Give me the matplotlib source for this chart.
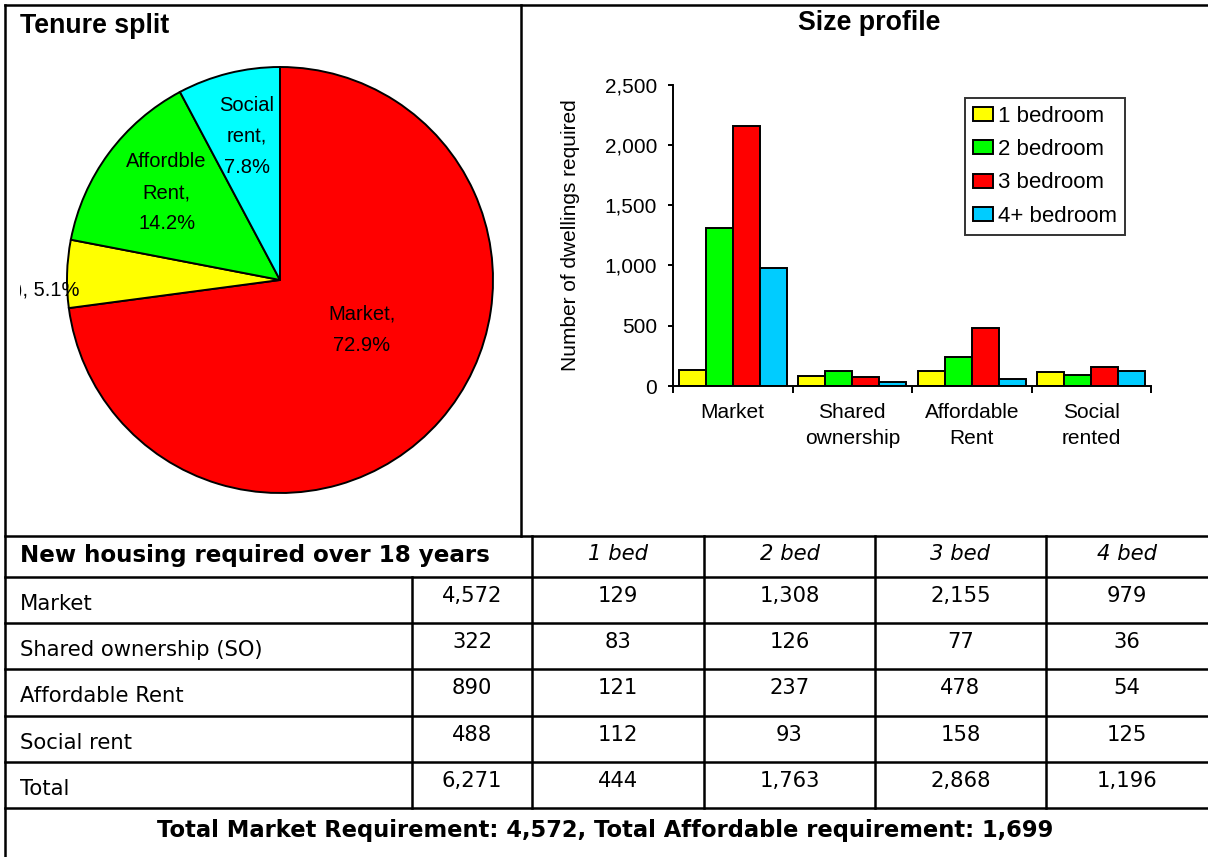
import matplotlib

matplotlib.use("Agg")
import matplotlib.pyplot as plt
import numpy as np
from matplotlib.legend_handler import HandlerPatch
from matplotlib.patches import Rectangle

# ---------- data ----------
# tenure split of new dwellings
tenure_totals = [4572, 322, 890, 488]
pie_names = ["Market,", "Shared ownership (SO),", "Affordble\nRent,", "Social\nrent,"]
pie_colors = ["#FF0000", "#FFFF00", "#00FF00", "#00FFFF"]

# size profile by tenure
groups = ["Market", "Shared\nownership", "Affordable\nRent", "Social\nrented"]
size_names = ["1 bedroom", "2 bedroom", "3 bedroom", "4+ bedroom"]
bed1 = [129, 83, 121, 112]
bed2 = [1308, 126, 237, 93]
bed3 = [2155, 77, 478, 158]
bed4 = [979, 36, 54, 125]
bar_colors = ["#FFFF00", "#00FF00", "#FF0000", "#00CCFF"]

# summary table
row_labels = ["Market", "Shared ownership (SO)", "Affordable Rent", "Social rent", "Total"]
row_totals = [4572, 322, 890, 488, 6271]
bed_totals = [444, 1763, 2868, 1196]
col_heads = ["1 bed", "2 bed", "3 bed", "4 bed"]
market_req = 4572
affordable_req = 1699

# ---------- layout (pixels, y down) ----------
W, H = 1208, 857
SANS = "Liberation Sans"
TABLE_FONT = "DejaVu Sans"


def fig_box(x0, y0, x1, y1):
    return [x0 / W, 1 - y1 / H, (x1 - x0) / W, (y1 - y0) / H]


def square_patch(legend, orig_handle, xdescent, ydescent, width, height, fontsize):
    # small square key pushed to the right end of the handle slot
    side = height
    return Rectangle((width - side - xdescent, -ydescent), side, side)


fig = plt.figure(figsize=(W / 100, H / 100), dpi=100)
fig.patch.set_facecolor("white")

# ---------- pie: tenure split ----------
PIE_CX, PIE_CY, PIE_R = 280, 280, 213
PIE_BOX = (20, 40, 520, 520)
ax_pie = fig.add_axes(fig_box(*PIE_BOX))
ax_pie.pie(
    tenure_totals,
    colors=pie_colors,
    startangle=90,
    counterclock=False,
    wedgeprops=dict(edgecolor="black", linewidth=1.4),
)
ax_pie.set_aspect("auto")
ax_pie.set_xlim((PIE_BOX[0] - PIE_CX) / PIE_R, (PIE_BOX[2] - PIE_CX) / PIE_R)
ax_pie.set_ylim((PIE_CY - PIE_BOX[3]) / PIE_R, (PIE_CY - PIE_BOX[1]) / PIE_R)

total = sum(tenure_totals)
label_pos = [(0.384, -0.233), (-0.939, -0.047), (-0.532, 0.41), (-0.156, 0.672)]
label_ha = ["center", "right", "center", "center"]
for name, v, (lx, ly), ha in zip(pie_names, tenure_totals, label_pos, label_ha):
    sep = " " if "\n" not in name and ha == "right" else "\n"
    ax_pie.text(
        lx, ly, f"{name}{sep}{v / total * 100:.1f}%",
        ha=ha, va="center", multialignment="center",
        fontsize=14.5, family=SANS, linespacing=1.8, clip_on=True,
    )

# ---------- bars: size profile ----------
ax_bar = fig.add_axes(fig_box(673, 84.5, 1151, 386))
x = np.arange(len(groups))
w = 0.225
for i, (vals, lab, col) in enumerate(zip([bed1, bed2, bed3, bed4], size_names, bar_colors)):
    ax_bar.bar(x + (i - 1.5) * w, vals, w, color=col, edgecolor="black",
               linewidth=1.4, label=lab)
ax_bar.set_xlim(-0.5, len(groups) - 0.5)
ax_bar.set_ylim(0, 2500)
ax_bar.set_yticks(np.arange(0, 2501, 500))
ax_bar.set_yticklabels([f"{t:,}" for t in range(0, 2501, 500)], family=SANS, fontsize=15)
ax_bar.set_xticks(np.arange(-0.5, len(groups)), labels=[])
ax_bar.set_xticks(x, labels=groups, minor=True)
for lbl in ax_bar.get_xticklabels(minor=True):
    lbl.set_family(SANS)
    lbl.set_fontsize(15)
    lbl.set_linespacing(1.45)
ax_bar.tick_params(axis="x", which="major", direction="out", length=4.8, width=1.4)
ax_bar.tick_params(axis="x", which="minor", length=0, pad=12.5)
ax_bar.tick_params(axis="y", direction="out", length=3.5, width=1.4, pad=8)
for s in ("top", "right"):
    ax_bar.spines[s].set_visible(False)
for s in ("left", "bottom"):
    ax_bar.spines[s].set_linewidth(1.4)
ax_bar.set_ylabel("Number of dwellings required", family=SANS, fontsize=15, va="center")
ax_bar.yaxis.set_label_coords(-0.2134, 0.5)

leg = ax_bar.legend(
    loc="upper left",
    bbox_to_anchor=(964.5 / W, 1 - 98 / H),
    bbox_transform=fig.transFigure,
    borderaxespad=0,
    prop=dict(family=SANS, size=16),
    handlelength=0.9,
    handleheight=0.6,
    handletextpad=0.25,
    labelspacing=0.55,
    borderpad=0.36,
    fancybox=False,
    frameon=True,
    handler_map={Rectangle: HandlerPatch(patch_func=square_patch)},
)
leg.get_frame().set_edgecolor("black")
leg.get_frame().set_linewidth(1.4)

# ---------- frame, titles and table ----------
ax_t = fig.add_axes([0, 0, 1, 1])
ax_t.set_xlim(0, W)
ax_t.set_ylim(H, 0)
ax_t.axis("off")

LW = 1.8
rows_y = [536, 577, 623, 669, 716, 762, 808]
col_x = [532, 704, 875, 1046]
ax_t.plot([5, W], [5, 5], c="black", lw=LW, solid_capstyle="projecting")
ax_t.plot([5, 5], [5, H], c="black", lw=LW, solid_capstyle="projecting")
ax_t.plot([521, 521], [5, rows_y[0]], c="black", lw=LW)
for yy in rows_y:
    ax_t.plot([5, W], [yy, yy], c="black", lw=LW)
for xx in col_x:
    ax_t.plot([xx, xx], [rows_y[0], rows_y[-1]], c="black", lw=LW)
ax_t.plot([412, 412], [rows_y[1], rows_y[-1]], c="black", lw=LW)

ax_t.text(20, 33, "Tenure split", ha="left", va="baseline", family=SANS,
          fontsize=19.3, fontweight="bold")
ax_t.text(869, 30, "Size profile", ha="center", va="baseline", family=SANS,
          fontsize=19.3, fontweight="bold")

ax_t.text(20, 562, "New housing required over 18 years", ha="left", va="baseline",
          family=TABLE_FONT, fontsize=16.6, fontweight="bold")
col_left = [412] + col_x
col_right = col_x + [W]
for i, head in enumerate(col_heads):
    cx = (col_left[i + 1] + col_right[i + 1]) / 2
    ax_t.text(cx, 560, head, ha="center", va="baseline", family=TABLE_FONT,
              fontsize=15.2, style="italic")

bed_cols = [bed1, bed2, bed3, bed4]
for r, label in enumerate(row_labels):
    top = rows_y[r + 1]
    ax_t.text(20, top + 33, label, ha="left", va="baseline", family=TABLE_FONT, fontsize=15.2)
    vals = [row_totals[r]] + [
        (bed_totals[c] if r == len(row_labels) - 1 else bed_cols[c][r]) for c in range(4)
    ]
    for c, v in enumerate(vals):
        cx = (col_left[c] + col_right[c]) / 2
        ax_t.text(cx, top + 25, f"{v:,}", ha="center", va="baseline",
                  family=TABLE_FONT, fontsize=15.2)

ax_t.text(
    605, 837,
    f"Total Market Requirement: {market_req:,}, Total Affordable requirement: {affordable_req:,}",
    ha="center", va="baseline", family=TABLE_FONT, fontsize=16.3, fontweight="bold",
)

fig.savefig("out.png", dpi=100, facecolor="white")
